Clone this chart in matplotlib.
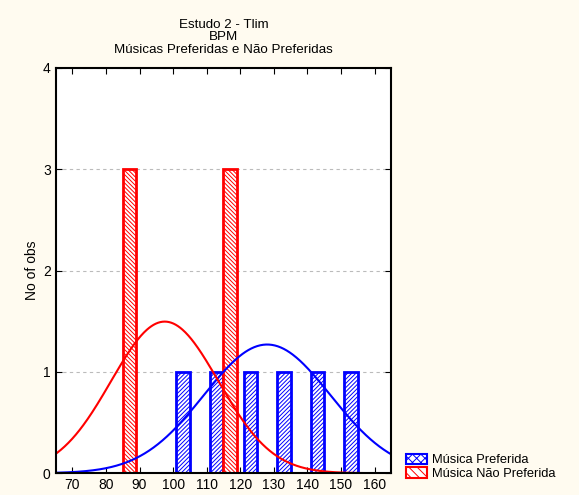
import numpy as np
import matplotlib.pyplot as plt
from matplotlib.patches import Patch

plt.rcParams['font.family'] = ['Liberation Sans', 'DejaVu Sans']
plt.rcParams['hatch.linewidth'] = 0.7

# bins de 10 BPM (borda esquerda)
bins = [60, 70, 80, 90, 100, 110, 120, 130, 140, 150, 160]
pref = [0, 0, 0, 0, 1, 1, 1, 1, 1, 1, 0]        # Música Preferida
nao_pref = [0, 0, 3, 0, 0, 3, 0, 0, 0, 0, 0]    # Música Não Preferida

# ajuste normal (media, desvio) estimado
pref_mu, pref_sd = 128.0, 18.85
nao_mu, nao_sd = 97.5, 16.0
n_pref, n_nao = sum(pref), sum(nao_pref)
bw = 10

fig = plt.figure(figsize=(5.79, 4.95), dpi=100, facecolor='#FFFBF0')
ax = fig.add_axes([0.096, 0.044, 0.580, 0.819])

b = np.array(bins)
ax.bar(b + 1, pref, width=4, align='edge', color='white', edgecolor='blue',
       linewidth=2, hatch='////////')
ax.bar(b + 5, nao_pref, width=4, align='edge', color='white', edgecolor='red',
       linewidth=2, hatch='\\\\\\\\\\\\\\\\')

x = np.linspace(60, 170, 500)
def normal(x, mu, sd, n):
    return n * bw / (sd * np.sqrt(2 * np.pi)) * np.exp(-(x - mu) ** 2 / (2 * sd ** 2))

ax.plot(x, normal(x, pref_mu, pref_sd, n_pref), color='blue', lw=1.5)
ax.plot(x, normal(x, nao_mu, nao_sd, n_nao), color='red', lw=1.5)

ax.set_xlim(65, 165)
ax.set_ylim(0, 4)
ax.set_xticks(range(70, 161, 10))
ax.set_yticks([0, 1, 2, 3, 4])
ax.tick_params(direction='in', top=True, right=True, length=4, labelsize=10,
               labeltop=False, labelright=False)
ax.yaxis.grid(True, linestyle=(0, (3, 3)), color='#bbbbbb', lw=0.8)
ax.set_axisbelow(True)
for s in ax.spines.values():
    s.set_linewidth(1.5)

ax.set_ylabel('No of obs', fontsize=10, labelpad=3)
ax.set_title('Estudo 2 - Tlim\nBPM\nMúsicas Preferidas e Não Preferidas',
             fontsize=9.6, linespacing=1.05, pad=11)

handles = [Patch(facecolor='white', edgecolor='blue', hatch='xxxx', lw=1.5),
           Patch(facecolor='white', edgecolor='red', hatch='\\\\\\\\', lw=1.5)]
fig.legend(handles, ['Música Preferida', 'Música Não Preferida'],
           loc='lower left', bbox_to_anchor=(0.693, 0.02), frameon=False,
           fontsize=9.3, handlelength=1.6, handleheight=0.9, handletextpad=0.4,
           labelspacing=0.05, borderaxespad=0)

fig.savefig('out.png', dpi=100, facecolor=fig.get_facecolor())
